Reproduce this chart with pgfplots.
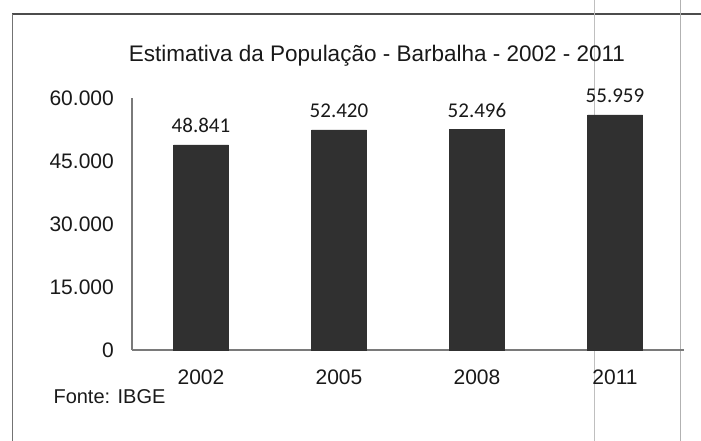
\documentclass[border=0pt]{standalone}
\usepackage{pgfplots}
\pgfplotsset{compat=1.18}
\usepackage{fontspec}
\setmainfont{Liberation Sans}
\newfontfamily\labelfont{Carlito}
\definecolor{barcol}{HTML}{303030}
\definecolor{axcol}{HTML}{7A7A7A}
\begin{document}
\begin{tikzpicture}[x=1pt,y=1pt]
\path[use as bounding box] (0,0) rectangle (701,-441);
% frame of the scanned page
\draw[color=black!70, line width=1.4pt] (12,-14) -- (701,-14);
\draw[color=black!55, line width=0.8pt] (12,-14) -- (12,-441);
\draw[color=black!25, line width=0.6pt] (594,0) -- (594,-441);
\draw[color=black!30, line width=0.6pt] (680,0) -- (680,-441);
\node[font=\fontsize{22.5}{25}\selectfont, text=black!90] at (377,-56) {Estimativa da População - Barbalha - 2002 - 2011};
\node[font=\fontsize{20}{22}\selectfont, text=black!90, anchor=west] at (50,-397) {Fonte: IBGE};
\begin{axis}[
  at={(132pt,-350pt)}, anchor=south west,
  scale only axis, width=552pt, height=252pt,
  xmin=-0.5, xmax=3.5, ymin=0, ymax=60000,
  scaled y ticks=false,
  axis x line=bottom, axis y line=left,
  axis line style={-, color=axcol, line width=1.6pt},
  major tick length=0pt,
  xtick={0,1,2,3}, xticklabels={2002,2005,2008,2011},
  ytick={0,15000,30000,45000,60000},
  yticklabels={0,15.000,30.000,45.000,60.000},
  ticklabel style={font=\fontsize{21}{24}\selectfont, text=black!90},
  yticklabel style={inner sep=0pt, anchor=east, xshift=-18pt},
  xticklabel style={inner sep=0pt, anchor=north, yshift=-20pt},
  ybar, bar width=55pt,
  point meta=explicit symbolic,
  nodes near coords,
  nodes near coords style={font=\labelfont\fontsize{21}{24}\selectfont, text=black!90, anchor=south, inner sep=0pt, yshift=12pt},
  clip=false,
]
\addplot[fill=barcol, draw=barcol] coordinates {
  (0,48841) [48.841]
  (1,52420) [52.420]
  (2,52496) [52.496]
  (3,55959) [55.959]
};
\end{axis}
\end{tikzpicture}
\end{document}
